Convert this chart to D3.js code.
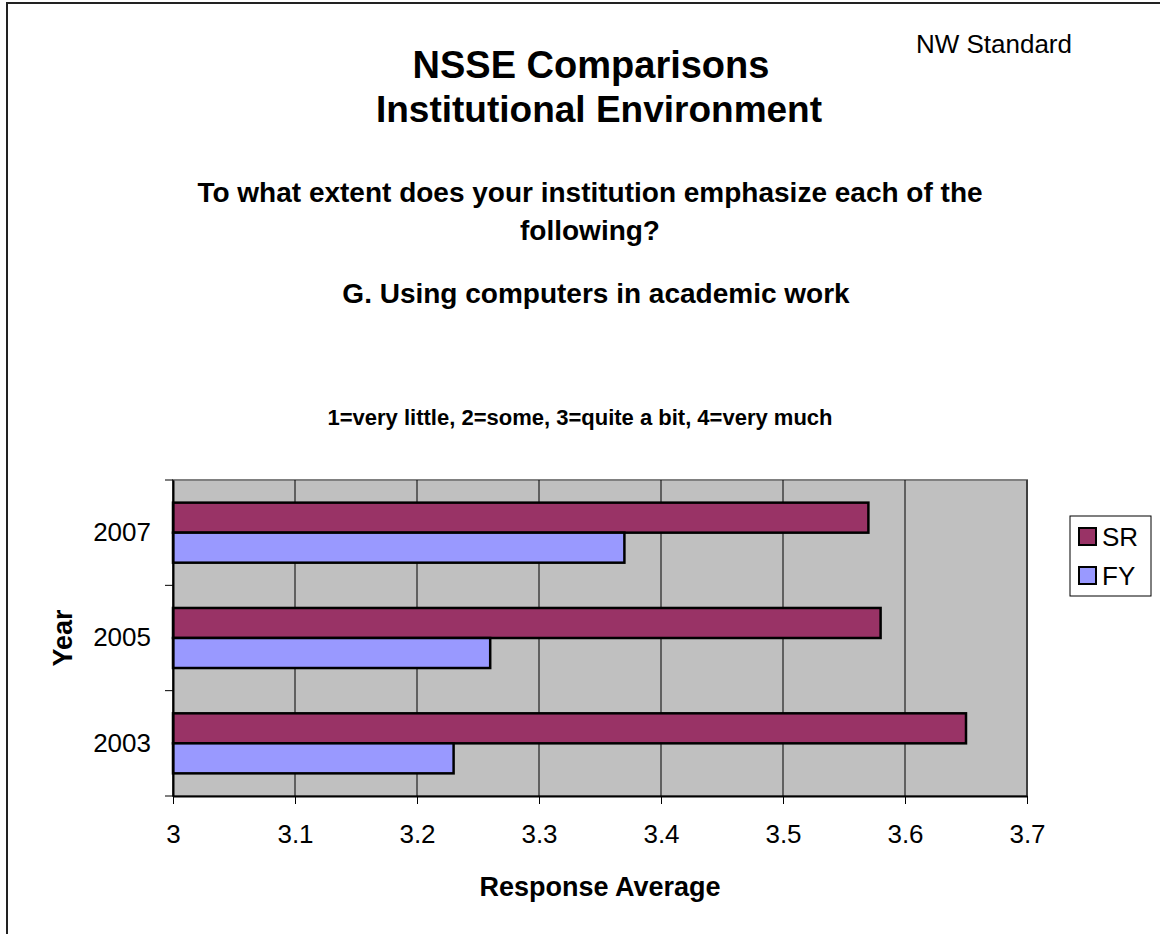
<!DOCTYPE html>
<html><head><meta charset="utf-8">
<script src="https://cdn.jsdelivr.net/npm/d3@7"></script>
<style>html,body{margin:0;padding:0;background:#fff;}svg{display:block;font-family:"Liberation Sans",Arial,sans-serif;}</style>
</head><body>
<svg id="c" width="1160" height="934"></svg>
<script>
const years = ["2007", "2005", "2003"];
const seriesNames = ["SR", "FY"];
const srValues = [3.57, 3.58, 3.65];
const fyValues = [3.37, 3.26, 3.23];
const xTicks = [3, 3.1, 3.2, 3.3, 3.4, 3.5, 3.6, 3.7];
const xTickLabels = ["3", "3.1", "3.2", "3.3", "3.4", "3.5", "3.6", "3.7"];
const colors = {SR: "#993366", FY: "#9999FF"};

const svg = d3.select("#c");
const plot = {left: 173, top: 480, right: 1027, bottom: 796};

// outer frame
svg.append("rect").attr("x", 7).attr("y", 3).attr("width", 1200).attr("height", 1000)
  .attr("fill", "none").attr("stroke", "#222").attr("stroke-width", 2);

// titles
const font = '"Liberation Sans",Arial,sans-serif';
function txt(x, y, s, size, weight, anchor) {
  return svg.append("text").attr("x", x).attr("y", y).text(s)
    .attr("font-size", size).attr("font-weight", weight || "normal")
    .attr("text-anchor", anchor || "middle").attr("fill", "#000");
}
txt(591, 78, "NSSE Comparisons", 38, "bold");
txt(599, 122, "Institutional Environment", 37, "bold");
txt(1072, 53, "NW Standard", 26, "normal", "end");
txt(590, 202, "To what extent does your institution emphasize each of the", 28, "bold");
txt(590, 240, "following?", 28, "bold");
txt(596, 303, "G. Using computers in academic work", 28, "bold");
txt(580, 425, "1=very little, 2=some, 3=quite a bit, 4=very much", 22, "bold");

const x = d3.scaleLinear().domain([3, 3.7]).range([plot.left, plot.right]);
const y = d3.scaleBand().domain(years).range([plot.top, plot.bottom]).paddingInner(0.43).paddingOuter(0.215);
const ys = d3.scaleBand().domain(seriesNames).range([0, y.bandwidth()]);

// plot area
svg.append("rect").attr("x", plot.left).attr("y", plot.top)
  .attr("width", plot.right - plot.left).attr("height", plot.bottom - plot.top)
  .attr("fill", "#C0C0C0").attr("stroke", "#808080").attr("stroke-width", 2);

// gridlines
svg.append("g").selectAll("line").data(xTicks).join("line")
  .attr("x1", d => x(d)).attr("x2", d => x(d))
  .attr("y1", plot.top).attr("y2", plot.bottom)
  .attr("stroke", "#000").attr("stroke-width", 1);

// bars
const rows = years.map((yr, i) => ({year: yr, SR: srValues[i], FY: fyValues[i]}));
const g = svg.append("g");
rows.forEach(r => {
  seriesNames.forEach(s => {
    g.append("rect")
      .attr("x", x(3)).attr("y", y(r.year) + ys(s))
      .attr("width", x(r[s]) - x(3)).attr("height", ys.bandwidth())
      .attr("fill", colors[s]).attr("stroke", "#000").attr("stroke-width", 2.5);
  });
});

// x axis
const xAxis = svg.append("g").attr("transform", `translate(0,${plot.bottom})`)
  .call(d3.axisBottom(x).tickValues(xTicks).tickFormat((d, i) => xTickLabels[i]).tickSize(8).tickPadding(21).tickSizeOuter(0));
xAxis.select(".domain").attr("stroke", "#000").attr("stroke-width", 2);
xAxis.selectAll(".tick line").attr("stroke", "#000");
xAxis.selectAll("text").attr("font-size", 26).attr("font-family", font).attr("fill", "#000");

// y axis
const yAxis = svg.append("g").attr("transform", `translate(${plot.left},0)`)
  .call(d3.axisLeft(y).tickSize(0).tickPadding(22));
yAxis.select(".domain").attr("stroke", "#000").attr("stroke-width", 2);
yAxis.selectAll("text").attr("font-size", 26).attr("font-family", font).attr("fill", "#000");
const bounds = years.map(d => y(d) - y.step() * y.paddingInner() / 2);
bounds[0] = plot.top;
bounds.push(plot.bottom);
svg.append("g").selectAll("line").data(bounds).join("line")
  .attr("x1", plot.left - 8).attr("x2", plot.left)
  .attr("y1", d => d).attr("y2", d => d)
  .attr("stroke", "#000").attr("stroke-width", 1);

// axis titles
txt((plot.left + plot.right) / 2, 896, "Response Average", 27, "bold");
svg.append("text").attr("transform", `translate(72,${(plot.top + plot.bottom) / 2}) rotate(-90)`)
  .attr("text-anchor", "middle").attr("font-size", 27).attr("font-weight", "bold").text("Year");

// legend
const lg = svg.append("g");
lg.append("rect").attr("x", 1070).attr("y", 516).attr("width", 81).attr("height", 80)
  .attr("fill", "#fff").attr("stroke", "#000").attr("stroke-width", 1);
seriesNames.forEach((s, i) => {
  lg.append("rect").attr("x", 1079).attr("y", 528 + i * 39).attr("width", 17).attr("height", 17)
    .attr("fill", colors[s]).attr("stroke", "#000").attr("stroke-width", 2);
  lg.append("text").attr("x", 1102).attr("y", 546 + i * 39).attr("font-size", 26).text(s);
});
</script>
</body></html>
